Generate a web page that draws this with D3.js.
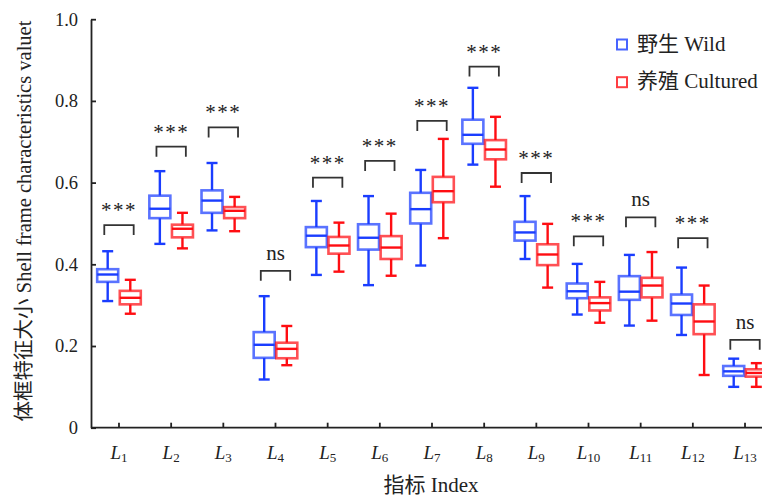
<!DOCTYPE html>
<html>
<head>
<meta charset="utf-8">
<script src="https://cdn.jsdelivr.net/npm/d3@7"></script>
<style>
  body { margin: 0; background: #fff; }
  text { font-family: "Liberation Serif", "Noto Sans CJK SC", serif; fill: #222; }
</style>
</head>
<body>
<div id="chart"></div>
<script>
/* box plots of shell frame indices, wild vs cultured */

const indices = ["1", "2", "3", "4", "5", "6", "7", "8", "9", "10", "11", "12", "13"];

// [min, q1, median, q3, max]
const wild = [
    [0.310, 0.357, 0.375, 0.388, 0.432],
    [0.450, 0.513, 0.536, 0.568, 0.628],
    [0.483, 0.526, 0.556, 0.581, 0.648],
    [0.118, 0.171, 0.203, 0.234, 0.322],
    [0.374, 0.442, 0.470, 0.491, 0.555],
    [0.349, 0.436, 0.465, 0.498, 0.567],
    [0.397, 0.500, 0.535, 0.575, 0.631],
    [0.644, 0.695, 0.717, 0.754, 0.832],
    [0.413, 0.458, 0.478, 0.504, 0.567],
    [0.277, 0.317, 0.334, 0.353, 0.401],
    [0.250, 0.313, 0.333, 0.371, 0.423],
    [0.227, 0.276, 0.304, 0.326, 0.392],
    [0.100, 0.127, 0.138, 0.151, 0.169]
];

const cultured = [
    [0.279, 0.302, 0.318, 0.335, 0.362],
    [0.439, 0.466, 0.487, 0.497, 0.526],
    [0.481, 0.513, 0.531, 0.540, 0.565],
    [0.153, 0.170, 0.193, 0.208, 0.249],
    [0.382, 0.426, 0.446, 0.467, 0.502],
    [0.372, 0.413, 0.441, 0.469, 0.524],
    [0.464, 0.552, 0.579, 0.614, 0.707],
    [0.590, 0.657, 0.681, 0.704, 0.761],
    [0.343, 0.398, 0.424, 0.449, 0.499],
    [0.257, 0.287, 0.305, 0.319, 0.357],
    [0.262, 0.319, 0.348, 0.367, 0.430],
    [0.129, 0.229, 0.260, 0.302, 0.348],
    [0.100, 0.125, 0.134, 0.143, 0.158]
];

const sigLevel = [0.496, 0.688, 0.735, 0.384, 0.612, 0.653, 0.751, 0.884, 0.6235, 0.4685, 0.515, 0.464, 0.215];
const sigLabel = ["***", "***", "***", "ns", "***", "***", "***", "***", "***", "***", "ns", "***", "ns"];

const yTicks = [0, 0.2, 0.4, 0.6, 0.8, 1.0];

const series = [
    {name: "野生 Wild", data: wild, color: "#1a3dff", shift: -11.3},
    {name: "养殖 Cultured", data: cultured, color: "#ff0d12", shift: 11.3}
];

const height = 499,
      width = 762,
      margin = ({top: 19.2, right: 0, bottom: 71.3, left: 91});

let svg = d3.select("#chart")
    .append("svg")
    .attr("width", width)
    .attr("height", height);

let x = d3.scaleBand()
    .domain(indices)
    .range([92.9, 771.1]);

let y = d3.scaleLinear()
    .domain([0, 1])
    .range([height - margin.bottom, margin.top]);

// y axis
let yAxis = svg.append("g")
    .attr("transform", `translate(${margin.left},0)`)
    .call(d3.axisLeft(y)
        .tickValues(yTicks)
        .tickFormat(d => d === 0 ? "0" : d3.format(".1f")(d))
        .tickSize(-5)
        .tickSizeOuter(0)
        .tickPadding(13));

yAxis.selectAll("text").style("font-size", "18.5px");

// x axis
let xAxis = svg.append("g")
    .attr("transform", `translate(0,${y(0)})`)
    .call(d3.axisBottom(x).tickSize(-5).tickPadding(18));

xAxis.select(".domain").remove();
xAxis.append("line")
    .attr("x1", margin.left)
    .attr("x2", width)
    .attr("stroke", "#222")
    .attr("stroke-width", 1.8);

xAxis.selectAll(".tick text")
    .text(null)
    .style("font-size", "19px")
    .call(t => t.append("tspan").style("font-style", "italic").text("L"))
    .call(t => t.append("tspan")
        .attr("dy", 3)
        .style("font-size", "13px")
        .text(d => d));

svg.selectAll(".domain, .tick line")
    .attr("stroke", "#222")
    .attr("stroke-width", 1.8);

// boxes
const boxW = 21, capW = 11;

for (let s of series) {
    let g = svg.selectAll(null)
        .data(s.data)
        .join("g")
        .attr("transform", (d, i) => `translate(${x(indices[i]) + x.bandwidth() / 2 + s.shift},0)`);

    g.append("line")
        .attr("y1", d => y(d[0]))
        .attr("y2", d => y(d[1]))
        .attr("stroke", s.color)
        .attr("stroke-width", 2.4);

    g.append("line")
        .attr("y1", d => y(d[3]))
        .attr("y2", d => y(d[4]))
        .attr("stroke", s.color)
        .attr("stroke-width", 2.4);

    for (let k of [0, 4]) {
        g.append("line")
            .attr("x1", -capW / 2)
            .attr("x2", capW / 2)
            .attr("y1", d => y(d[k]))
            .attr("y2", d => y(d[k]))
            .attr("stroke", s.color)
            .attr("stroke-width", 2.4);
    }

    g.append("rect")
        .attr("x", -boxW / 2)
        .attr("width", boxW)
        .attr("y", d => y(d[3]))
        .attr("height", d => y(d[1]) - y(d[3]))
        .attr("fill", "white")
        .attr("stroke", s.color)
        .attr("stroke-opacity", 0.72)
        .attr("stroke-width", 2.6);

    g.append("line")
        .attr("x1", -boxW / 2)
        .attr("x2", boxW / 2)
        .attr("y1", d => y(d[2]))
        .attr("y2", d => y(d[2]))
        .attr("stroke", s.color)
        .attr("stroke-width", 2.4);
}

// significance brackets
let sig = svg.selectAll(".sig")
    .data(sigLevel)
    .join("g")
    .attr("class", "sig")
    .attr("transform", (d, i) => `translate(${x(indices[i]) + x.bandwidth() / 2},${y(d)})`);

sig.append("path")
    .attr("d", "M-14.7,10V0H14.7V10")
    .attr("fill", "none")
    .attr("stroke", "#333")
    .attr("stroke-width", 1.8);

sig.append("text")
    .attr("y", (d, i) => sigLabel[i] === "ns" ? -11 : -8)
    .attr("text-anchor", "middle")
    .style("font-size", (d, i) => sigLabel[i] === "ns" ? "21px" : "21px")
    .style("letter-spacing", (d, i) => sigLabel[i] === "ns" ? "0px" : "1.5px")
    .text((d, i) => sigLabel[i]);

// legend
let legend = svg.selectAll(".legend")
    .data(series)
    .join("g")
    .attr("class", "legend")
    .attr("transform", (d, i) => `translate(617,${39.5 + i * 37.7})`);

legend.append("rect")
    .attr("width", 10)
    .attr("height", 10)
    .attr("fill", "white")
    .attr("stroke", d => d.color)
    .attr("stroke-opacity", 0.8)
    .attr("stroke-width", 2);

legend.append("text")
    .attr("x", 20)
    .attr("y", 11)
    .style("font-size", "21px")
    .text(d => d.name);

// axis titles
svg.append("text")
    .attr("transform", "translate(31,221) rotate(-90)")
    .attr("text-anchor", "middle")
    .style("font-size", "20.5px")
    .text("体框特征大小 Shell frame characteristics valuet");

svg.append("text")
    .attr("x", 431)
    .attr("y", 492)
    .attr("text-anchor", "middle")
    .style("font-size", "21px")
    .text("指标 Index");
</script>
</body>
</html>
